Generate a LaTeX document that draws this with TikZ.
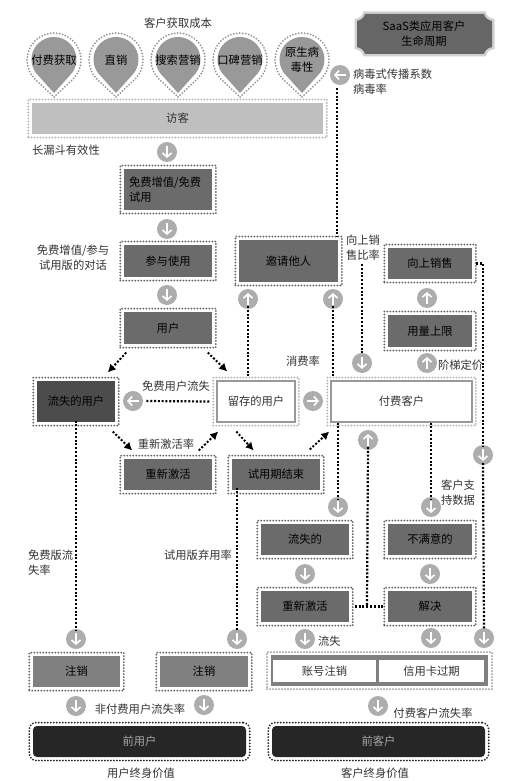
\documentclass[tikz,border=0pt]{standalone}
\usepackage{fontspec}
\setmainfont{Noto Sans CJK SC}
\usetikzlibrary{arrows.meta,calc}
\definecolor{lab}{gray}{0.2}
\tikzset{
  every node/.style={inner sep=0pt,outer sep=0pt,font=\fontsize{11.3}{15}\selectfont,text=lab,align=center},
  ink/.style={text=black},
  dotsD/.style={draw=black!62,line width=2pt,line cap=round,dash pattern=on 0pt off 3pt},
  dotsL/.style={draw=black!30,line width=2pt,line cap=round,dash pattern=on 0pt off 3pt},
  dotsK/.style={draw=black!85,line width=2pt,line cap=round,dash pattern=on 0pt off 3pt},
  fillA/.style={fill=black!58,ink},
  fillB/.style={fill=black!50,ink},
  fillC/.style={fill=black!70,ink},
  fillV/.style={fill=black!25},
  fillN/.style={fill=black!85,rounded corners=4pt,text=black!35},
  fillW/.style={fill=white,draw=black!40,line width=1.2pt},
  disc/.style={circle,fill=black!32,minimum size=20pt},
  discarrow/.style={draw=white,line width=1.7pt,-{Straight Barb[length=4pt,width=9pt,line width=1.6pt]}},
  flow/.style={draw=black,line width=2.2pt,dash pattern=on 2pt off 1.8pt},
  diag/.style={draw=black,line width=2pt,dash pattern=on 2pt off 1.8pt,-{Latex[length=8pt,width=8.5pt]}},
}
% corners of the fill, fill style, dot style, text
\newcommand{\bx}[8]{%
  \node[#7,minimum width={#4-#2+7.5},minimum height={#5-#3+7}] (#1) at ({(#2+#4)/2},{(#3+#5)/2}) {};
  \node[#6,minimum width={#4-#2},minimum height={#5-#3}] (#1-in) at (#1.center) {#8};
}
\newcommand{\dsc}[5]{%
  \node[disc] (#1) at (#2,#3) {};
  \draw[discarrow] ([shift={(-#4,-#5)}]#1.center) -- ([shift={(#4,#5)}]#1.center);
}
\newcommand{\pinshape}[3]{%
  \fill[black!40] (#2,93) -- ({#2+22.5*cos(47)},{59.5+22.5*sin(47)}) arc[start angle=47,end angle=-227,radius=22.5] -- cycle;
  \draw[dotsL,draw=black!42] (#2,97) -- ({#2+27*cos(45)},{60+27*sin(45)}) arc[start angle=45,end angle=-225,radius=27] -- cycle;
  \node[ink] (#1) at (#2,60) {#3};
}
\newcommand{\plateoutline}{(365,14) -- (484,14) .. controls (485,18) and (488,20) .. (492,21)
  -- (492,47) .. controls (488,48) and (485,50) .. (484,54) -- (365,54) .. controls (364,50) and (361,48) .. (357,47)
  -- (357,21) .. controls (361,20) and (364,18) .. (365,14) -- cycle}
\begin{document}
\begin{tikzpicture}[x=1pt,y=-1pt]
\useasboundingbox (0,0) rectangle (520,781);
\fill[white] (0,0) rectangle (520,781);

% title plate
\draw[draw=black!18,line width=5pt] \plateoutline;
\fill[black!60] \plateoutline;
\node[ink] (plate) at (424,34) {SaaS类应用客户\\生命周期};

% pins
\node (cac) at (178,23) {客户获取成本};
\pinshape{p1}{54}{付费获取}
\pinshape{p2}{116}{直销}
\pinshape{p3}{178}{搜索营销}
\pinshape{p4}{240}{口碑营销}
\pinshape{p5}{302}{原生病\\毒性}

% boxes
\bx{visit}{32}{103}{323}{134}{fillV}{dotsL}{访客}
\bx{free}{124}{169}{212}{210}{fillA}{dotsD}{\parbox{78pt}{\raggedright 免费增值/免费\\试用}}
\bx{engage}{124}{245}{212}{277}{fillA}{dotsD}{参与使用}
\bx{users}{124}{312}{212}{344}{fillA}{dotsD}{用户}
\bx{lost}{37}{381}{115}{422}{fillC}{dotsD}{流失的用户}
\bx{kept}{217}{381}{295}{422}{fillW}{dotsL}{留存的用户}
\bx{paid}{331}{381}{472}{422}{fillW}{dotsL}{付费客户}
\bx{react}{124}{459}{212}{490}{fillA}{dotsD}{重新激活}
\bx{trial}{232}{459}{320}{490}{fillA}{dotsD}{试用期结束}
\bx{invite}{239}{240}{338}{282}{fillA}{dotsD}{邀请他人}
\bx{upsell}{388}{248}{472}{279}{fillA}{dotsD}{向上销售}
\bx{cap}{388}{315}{472}{347}{fillA}{dotsD}{用量上限}
\bx{gone}{261}{524}{349}{555}{fillA}{dotsD}{流失的}
\bx{unhappy}{388}{524}{472}{555}{fillA}{dotsD}{不满意的}
\bx{react2}{261}{591}{349}{622}{fillA}{dotsD}{重新激活}
\bx{solve}{388}{591}{472}{622}{fillA}{dotsD}{解决}
\bx{cancelA}{33}{656}{120}{687}{fillB}{dotsD}{注销}
\bx{cancelB}{160}{656}{248}{687}{fillB}{dotsD}{注销}
\bx{exuser}{33}{726}{246}{757}{fillN}{dotsK,rounded corners=7pt,minimum height=41pt,minimum width=224pt}{前用户}
\bx{excust}{272}{726}{485}{757}{fillN}{dotsK,rounded corners=7pt,minimum height=41pt,minimum width=224pt}{前客户}

% account-closing frame
\node[dotsL,draw=black!40,minimum width=225pt,minimum height=37pt] (close) at (379.5,670.5) {};
\node[fill=black!50,minimum width=217pt,minimum height=31pt] (closein) at (close.center) {};
\node[fill=white,minimum width=103pt,minimum height=22pt] (acct) at (324.5,671) {账号注销};
\node[fill=white,minimum width=105pt,minimum height=22pt] (card) at (431.5,671) {信用卡过期};

% discs
\dsc{d1}{167}{152}{0}{6}
\dsc{d2}{167}{229}{0}{6}
\dsc{d3}{167}{295}{0}{6}
\dsc{d4}{248}{299}{0}{-6}
\dsc{d5}{333}{299}{0}{-6}
\dsc{d6}{340}{75}{-6}{0}
\dsc{d7}{362}{363}{0}{6}
\dsc{d8}{427}{298}{0}{-6}
\dsc{d9}{427}{363}{0}{-6}
\dsc{d10}{133}{401}{-6}{0}
\dsc{d11}{313}{401}{6}{0}
\dsc{d12}{483}{455}{0}{6}
\dsc{d13}{338}{507}{0}{6}
\dsc{d14}{368}{440}{0}{-6}
\dsc{d15}{431}{507}{0}{6}
\dsc{d16}{305}{574}{0}{6}
\dsc{d17}{430}{574}{0}{6}
\dsc{d18}{305}{639}{0}{6}
\dsc{d19}{431}{638}{0}{6}
\dsc{d20}{484}{638}{0}{6}
\dsc{d21}{76}{639}{0}{6}
\dsc{d22}{237}{639}{0}{6}
\dsc{d23}{76}{706}{0}{6}
\dsc{d24}{204}{705}{0}{6}
\dsc{d25}{378}{706}{0}{6}

% dotted connectors
\coordinate (virTop) at (337,88);
\coordinate (upTop) at (362,264);
\coordinate (midJoin) at (367,607);
\draw[flow] (virTop) -- (virTop |- invite.north);
\draw[flow] ([yshift=3pt]d4.south) -- (d4.south |- kept.north);
\draw[flow] ([yshift=3pt]d5.south) -- (d5.south |- paid.north);
\draw[flow] (upTop) -- ([yshift=-2pt]d7.north);
\draw[flow] ([xshift=-4pt]kept.west) -- ([xshift=3pt]d10.east);
\draw[flow] (upsell.east) -| ([yshift=-2pt]d12.north);
\draw[flow] ([yshift=2pt]d12.south) -- ([yshift=-2pt]d20.north);
\draw[flow] ([yshift=3pt]paid.south -| d13.north) -- ([yshift=-2pt]d13.north);
\draw[flow] ([yshift=3pt]paid.south -| d15.north) -- ([yshift=-2pt]d15.north);
\draw[flow] ([yshift=3pt]d14.south) -- (midJoin);
\draw[flow] (react2.east) ++(2,0) -- (solve.west |- react2.east);
\draw[flow] ([yshift=5pt]lost.south) -- ([yshift=-2pt]d21.north);
\draw[flow] ([yshift=6pt]trial.south -| d22.north) -- ([yshift=-2pt]d22.north);

% diagonal arrows
\draw[diag] ($(users.south west)+(6,5)$) -- ($(lost.north east)+(-11,-5)$);
\draw[diag] ($(users.south east)+(-8,5)$) -- ($(kept.north west)+(14,-6)$);
\draw[diag] ($(lost.south east)+(-6,6)$) -- ($(react.north west)+(12,-5)$);
\draw[diag] ($(react.north east)+(-17,-5)$) -- ($(kept.south west)+(5,6)$);
\draw[diag] ($(kept.south west)+(23,6)$) -- ($(trial.north east)+(-70,-5)$);
\draw[diag] ($(trial.north east)+(-14,-6)$) -- ($(paid.south west)+(2,6)$);

% labels
\node[anchor=west] (l1) at (32,150) {长漏斗有效性};
\node (l2) at (73,257.5) {免费增值/参与\\试用版的对话};
\node[anchor=west,align=left] (l3) at (353,81.5) {病毒式传播系数\\病毒率};
\node[anchor=west,align=left] (l4) at (346,247.5) {向上销\\售比率};
\node[anchor=west] (l5) at (438,365) {阶梯定价};
\node (l6) at (303,361) {消费率};
\node (l7) at (176,386) {免费用户流失};
\node (l8) at (166,444) {重新激活率};
\node[anchor=west,align=left] (l9) at (441,492.5) {客户支\\持数据};
\node[anchor=west,align=left] (l10) at (28,562.5) {免费版流\\失率};
\node (l11) at (198,555) {试用版弃用率};
\node[anchor=west] (l12) at (318,641) {流失};
\node (l13) at (140,709) {非付费用户流失率};
\node (l14) at (433,713) {付费客户流失率};
\node (l15) at (141,773) {用户终身价值};
\node (l16) at (375,773) {客户终身价值};
\end{tikzpicture}
\end{document}
